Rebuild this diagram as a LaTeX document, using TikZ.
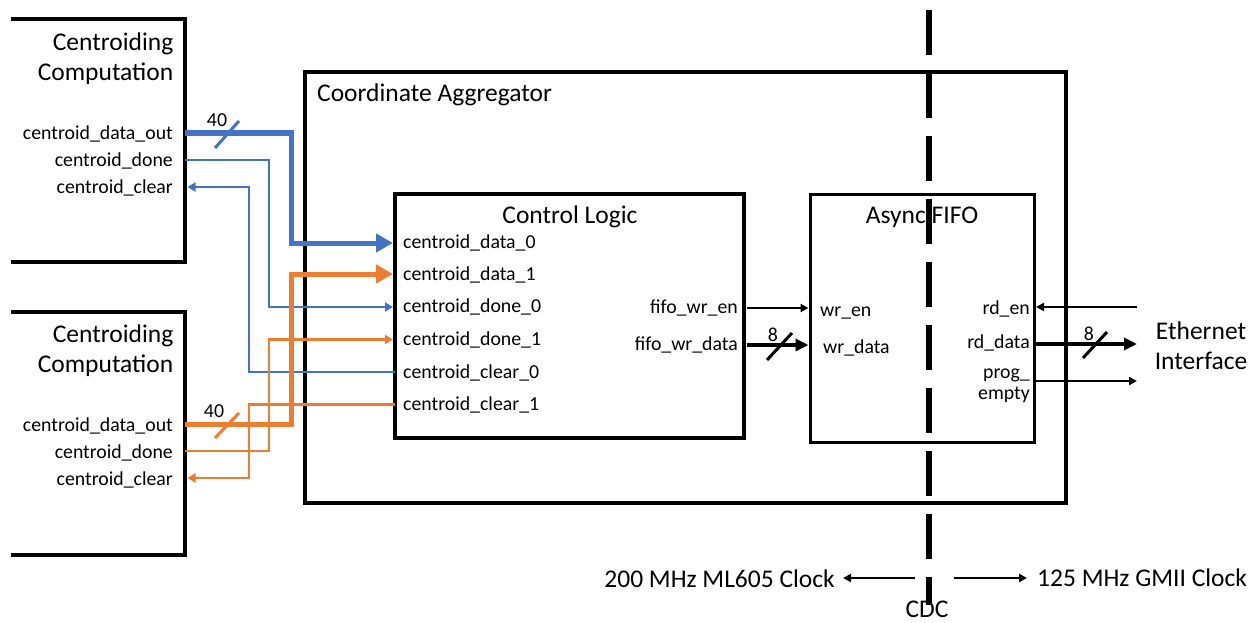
\documentclass[tikz,border=0pt]{standalone}
\usepackage{fontspec}
\setmainfont{Carlito}
\usetikzlibrary{arrows.meta}
\definecolor{cblue}{HTML}{4472C4}
\definecolor{corange}{HTML}{ED7D31}
\begin{document}
\begin{tikzpicture}[x=1pt,y=-1pt,
  frame/.style={line width=4.6pt},
  title/.style={font=\fontsize{25.5}{30}\selectfont, inner sep=0pt},
  lbl/.style={font=\fontsize{19.8}{21}\selectfont, inner sep=0pt},
  bus/.style={line width=5pt, line join=miter, -{Triangle[length=17pt,width=18pt]}},
  sig/.style={line width=2.4pt, -{Triangle[length=8pt,width=9pt]}},
  bbus/.style={line width=4pt, -{Triangle[length=13pt,width=12pt]}},
  bsig/.style={line width=2.4pt, -{Triangle[length=8pt,width=8pt]}},
  slash/.style={line width=3pt},
  cdc/.style={line width=6pt, dash pattern=on 45pt off 18pt}
]
\useasboundingbox (0,0) rectangle (1252,623);

% ---------- boxes ----------
\draw[frame] (11,19) -- (185,19) -- (185,262) -- (11,262);
\draw[frame] (11,312) -- (185,312) -- (185,555) -- (11,555);
\draw[frame] (305,72) rectangle (1066,503);
\draw[line width=4.5pt] (395,194) rectangle (744,438);
\draw[line width=3pt] (810,194) rectangle (1034,442);

\node[title, align=right, anchor=north east] (cc1) at (173.5,33) {Centroiding\\Computation};
\node[title, align=right, anchor=north east] (cc2) at (173.5,325) {Centroiding\\Computation};
\node[title, anchor=base west] (agg) at (317,102) {Coordinate Aggregator};
\node[title, anchor=base] (cltitle) at (570,223) {Control Logic};
\node[title, anchor=base] (fifotitle) at (922,223) {Async FIFO};
\node[title, align=center, anchor=north] (eth) at (1201,321.5) {Ethernet\\Interface};

% ---------- port labels ----------
\node[lbl, anchor=mid east] (a1) at (173,137.5) {centroid\_data\_out};
\node[lbl, anchor=mid east] (a2) at (173,164.5) {centroid\_done};
\node[lbl, anchor=mid east] (a3) at (173,191.5) {centroid\_clear};
\node[lbl, anchor=mid east] (b1) at (173,429.5) {centroid\_data\_out};
\node[lbl, anchor=mid east] (b2) at (173,456.5) {centroid\_done};
\node[lbl, anchor=mid east] (b3) at (173,483.5) {centroid\_clear};

\node[lbl, anchor=mid west] (i1) at (403,246.5) {centroid\_data\_0};
\node[lbl, anchor=mid west] (i2) at (403,278) {centroid\_data\_1};
\node[lbl, anchor=mid west] (i3) at (403,310.5) {centroid\_done\_0};
\node[lbl, anchor=mid west] (i4) at (403,343) {centroid\_done\_1};
\node[lbl, anchor=mid west] (i5) at (403,376) {centroid\_clear\_0};
\node[lbl, anchor=mid west] (i6) at (403,408.5) {centroid\_clear\_1};

\node[lbl, anchor=mid east] (o1) at (738,311.5) {fifo\_wr\_en};
\node[lbl, anchor=mid east] (o2) at (738,348.5) {fifo\_wr\_data};
\node[lbl, anchor=mid west] (f1) at (820,314) {wr\_en};
\node[lbl, anchor=mid west] (f2) at (823,351) {wr\_data};
\node[lbl, anchor=mid east] (r1) at (1030,312.5) {rd\_en};
\node[lbl, anchor=mid east] (r2) at (1030,346) {rd\_data};
\node[lbl, anchor=east, align=right] (r3) at (1030,385.5) {prog\_\\empty};

% ---------- port coordinates ----------
\coordinate (p1d) at (185,133);
\coordinate (p1n) at (185,160);
\coordinate (p1c) at (187.5,187);
\coordinate (p2d) at (185,424);
\coordinate (p2n) at (185,451);
\coordinate (p2c) at (187.5,478);
\coordinate (cd0) at (393,243);
\coordinate (cd1) at (393,274);
\coordinate (cn0) at (393,307);
\coordinate (cn1) at (393,339.5);
\coordinate (cc0) at (395,372);
\coordinate (ccl1) at (395,404.5);
\coordinate (cwe) at (746.5,308);
\coordinate (cwd) at (746.5,345);
\coordinate (fwe) at (808.5,308);
\coordinate (fwd) at (808.5,345);
\coordinate (fre) at (1036,307);
\coordinate (frd) at (1034,344);
\coordinate (fpe) at (1034,381);
\coordinate (ere) at (1137,307);
\coordinate (erd) at (1137,344);
\coordinate (epe) at (1137,381);

% ---------- thin signals ----------
\draw[sig, cblue] (p1n) -| (269,250) |- (cn0);
\draw[sig, cblue] (cc0) -| (249,250) |- (p1c);
\draw[sig, corange] (p2n) -| (269,400) |- (cn1);
\draw[sig, corange] (ccl1) -| (249,450) |- (p2c);

% ---------- buses ----------
\draw[bus, cblue] (p1d) -| (291,200) |- (cd0);
\draw[bus, corange] (p2d) -| (291,350) |- (cd1);
\draw[slash, cblue] (215,148) -- (239,121);
\draw[slash, corange] (215,438) -- (239,413);
\node[lbl, anchor=center] (w1) at (217,120) {40};
\node[lbl, anchor=center] (w2) at (214,411) {40};

% ---------- FIFO side ----------
\draw[bsig] (cwe) -- (fwe);
\draw[bbus] (cwd) -- (fwd);
\draw[slash] (767,360) -- (792,333);
\node[lbl, anchor=center] (w3) at (773,335) {8};

\draw[bsig] (ere) -- (fre);
\draw[bbus] (frd) -- (erd);
\draw[bsig] (fpe) -- (epe);
\draw[slash] (1083,358) -- (1107,332);
\node[lbl, anchor=center] (w4) at (1089,334) {8};

% ---------- clock domain crossing ----------
\coordinate (cdtop) at (928.5,10);
\coordinate (cdbot) at (928.5,605);
\draw[cdc] (cdtop) -- (cdbot);
\node[title, anchor=center] (cdclbl) at (927,609) {CDC};
\node[title, anchor=east] (clkL) at (835,579) {200 MHz ML605 Clock};
\node[title, anchor=west] (clkR) at (1037,578) {125 MHz GMII Clock};
\coordinate (la) at (915,578);
\coordinate (lt) at (843,578);
\coordinate (ra) at (954,578);
\coordinate (rt) at (1027,578);
\draw[bsig] (la) -- (lt);
\draw[bsig] (ra) -- (rt);
\end{tikzpicture}
\end{document}
